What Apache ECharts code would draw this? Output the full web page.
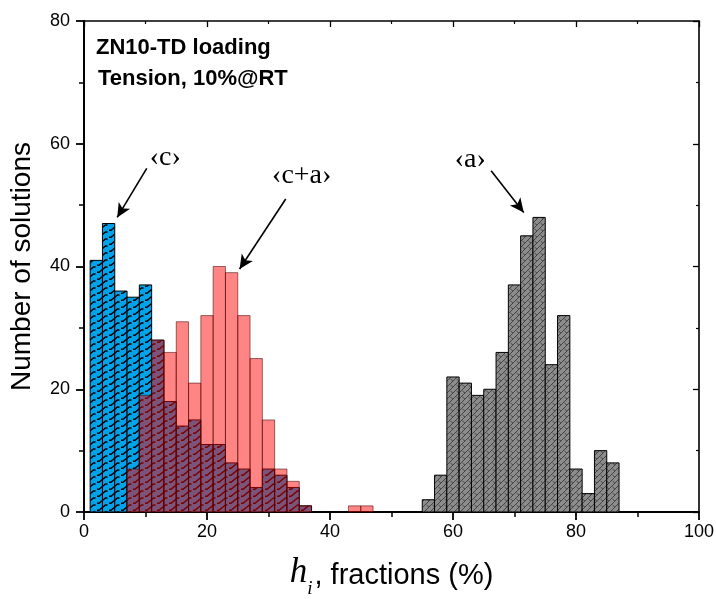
<!DOCTYPE html>
<html>
<head>
<meta charset="utf-8">
<script src="https://cdn.jsdelivr.net/npm/echarts@6/dist/echarts.min.js"></script>
<style>
  html, body { margin: 0; padding: 0; background: #fff; }
  #chart { width: 716px; height: 599px; }
</style>
</head>
<body>
<div id="chart"></div>
<script>
// Histogram of slip-system fractions, bins are 2 % wide (values are bin centres)
const binWidth = 2;

// <c> slip
const cBins   = [2, 4, 6, 8, 10, 12, 14, 16, 18, 20, 22, 24, 26, 28, 30, 32, 34, 36];
const cCounts = [41, 47, 36, 35, 37, 28, 18, 14, 15, 11, 11, 8, 7, 4, 7, 6, 4, 1];

// <c+a> slip
const caBins   = [8, 10, 12, 14, 16, 18, 20, 22, 24, 26, 28, 30, 32, 34, 36, 44, 46];
const caCounts = [7, 19, 28, 26, 31, 21, 32, 40, 39, 32, 25, 15, 7, 5, 1, 1, 1];

// <a> slip
const aBins   = [56, 58, 60, 62, 64, 66, 68, 70, 72, 74, 76, 78, 80, 82, 84, 86];
const aCounts = [2, 6, 22, 21, 19, 20, 26, 37, 45, 48, 24, 32, 7, 3, 10, 8];

const xTicks = [0, 20, 40, 60, 80, 100];
const yTicks = [0, 20, 40, 60, 80];

// annotation labels and arrows, in data coordinates
const labels = [
  { text: '\u2039c\u203A',   at: [13.2, 57.8] },
  { text: '\u2039c+a\u203A', at: [35.4, 54.8] },
  { text: '\u2039a\u203A',   at: [62.8, 57.4] }
];
const arrows = [
  { from: [10.2, 56.0], to: [5.4, 48.0] },
  { from: [32.8, 51.0], to: [25.3, 39.6] },
  { from: [66.2, 55.6], to: [71.5, 48.8] }
];

function pairs(bins, counts) { return bins.map((b, i) => [b, counts[i]]); }

// hatch fills
function blueHatch() {
  const cv = document.createElement('canvas');
  cv.width = 12; cv.height = 7;
  const g = cv.getContext('2d');
  g.fillStyle = '#00a2ea';
  g.fillRect(0, 0, 12, 7);
  g.strokeStyle = '#000';
  g.lineWidth = 1.4;
  g.beginPath();
  g.moveTo(1, 6.2); g.lineTo(3, 6.2); g.lineTo(9.5, 1); g.lineTo(11.5, 1);
  g.stroke();
  return { image: cv, repeat: 'repeat' };
}
function grayHatch() {
  const cv = document.createElement('canvas');
  cv.width = 6; cv.height = 6;
  const g = cv.getContext('2d');
  g.fillStyle = '#8c8c8c';
  g.fillRect(0, 0, 6, 6);
  g.strokeStyle = '#333';
  g.lineWidth = 0.8;
  g.beginPath();
  g.moveTo(0, 6); g.lineTo(6, 0);
  g.moveTo(0.5, 1); g.lineTo(3, 3.2);
  g.stroke();
  return { image: cv, repeat: 'repeat' };
}

function barRenderer(fill, stroke, lineWidth) {
  return function (params, api) {
    const c = api.value(0), v = api.value(1);
    const p0 = api.coord([c - binWidth / 2, v]);
    const p1 = api.coord([c + binWidth / 2, 0]);
    return {
      type: 'rect',
      shape: { x: p0[0], y: p0[1], width: p1[0] - p0[0], height: p1[1] - p0[1] },
      style: { fill: fill, stroke: stroke, lineWidth: lineWidth }
    };
  };
}

const chart = echarts.init(document.getElementById('chart'), null, { renderer: 'canvas' });

const axisFont = { fontFamily: 'Liberation Sans, Arial, sans-serif', fontSize: 18, color: '#000' };
const frameLine = { show: true, onZero: false, lineStyle: { color: '#000', width: 1.6 } };

const option = {
  animation: false,
  backgroundColor: '#fff',
  grid: { left: 84, right: 17, top: 21, bottom: 87, containLabel: false, outerBoundsMode: 'none' },
  xAxis: [
    {
      type: 'value', min: 0, max: 100, interval: 20,
      axisLine: { show: true, onZero: false, lineStyle: { color: '#000', width: 2 } },
      axisTick: { show: true, inside: false, length: 8, lineStyle: { color: '#000', width: 1.8 } },
      minorTick: { show: true, splitNumber: 2, length: 5, lineStyle: { color: '#000', width: 1.5 } },
      splitLine: { show: false },
      axisLabel: Object.assign({ margin: 11, formatter: v => xTicks.includes(v) ? String(v) : '' }, axisFont),
      name: '{h|h}{i|i}{t|, fractions (%)}',
      nameLocation: 'middle', nameGap: 43,
      nameTextStyle: {
        rich: {
          h: { fontFamily: 'Liberation Serif, Times New Roman, serif', fontStyle: 'italic', fontSize: 35, color: '#000', verticalAlign: 'bottom' },
          i: { fontFamily: 'Liberation Serif, Times New Roman, serif', fontStyle: 'italic', fontSize: 19, color: '#000', verticalAlign: 'bottom', padding: [0, 2, -8, 0] },
          t: { fontFamily: 'Liberation Sans, Arial, sans-serif', fontSize: 29, color: '#000', verticalAlign: 'bottom' }
        }
      }
    },
    {
      type: 'value', position: 'top', min: 0, max: 100, interval: 20,
      axisLine: frameLine,
      axisTick: { show: true, inside: true, length: 6, lineStyle: { color: '#000', width: 1.3 } },
      minorTick: { show: true, splitNumber: 2, length: 3, lineStyle: { color: '#000', width: 1.2 } },
      axisLabel: { show: false }, splitLine: { show: false }
    }
  ],
  yAxis: [
    {
      type: 'value', min: 0, max: 80, interval: 20,
      axisLine: { show: true, onZero: false, lineStyle: { color: '#000', width: 2 } },
      axisTick: { show: true, inside: false, length: 8, lineStyle: { color: '#000', width: 1.8 } },
      minorTick: { show: true, splitNumber: 2, length: 5, lineStyle: { color: '#000', width: 1.5 } },
      splitLine: { show: false },
      axisLabel: Object.assign({ margin: 14, formatter: v => yTicks.includes(v) ? String(v) : '' }, axisFont),
      name: 'Number of solutions',
      nameLocation: 'middle', nameGap: 48,
      nameTextStyle: { fontFamily: 'Liberation Sans, Arial, sans-serif', fontSize: 28, color: '#000' }
    },
    {
      type: 'value', position: 'right', min: 0, max: 80, interval: 20,
      axisLine: frameLine,
      axisTick: { show: true, inside: true, length: 6, lineStyle: { color: '#000', width: 1.3 } },
      minorTick: { show: true, splitNumber: 2, length: 3, lineStyle: { color: '#000', width: 1.2 } },
      axisLabel: { show: false }, splitLine: { show: false }
    }
  ],
  series: [
    {
      name: '<c>', type: 'custom', xAxisIndex: 0, yAxisIndex: 0,
      renderItem: barRenderer(blueHatch(), '#000', 1),
      encode: { x: 0, y: 1 },
      data: pairs(cBins, cCounts), z: 2
    },
    {
      name: '<c+a>', type: 'custom', xAxisIndex: 0, yAxisIndex: 0,
      renderItem: barRenderer('rgba(255,0,0,0.48)', 'rgba(70,0,0,0.55)', 1),
      encode: { x: 0, y: 1 },
      data: pairs(caBins, caCounts), z: 3
    },
    {
      name: '<a>', type: 'custom', xAxisIndex: 0, yAxisIndex: 0,
      renderItem: barRenderer(grayHatch(), '#000', 1),
      encode: { x: 0, y: 1 },
      data: pairs(aBins, aCounts), z: 2
    },
    {
      // arrows and slip-mode labels
      type: 'line', xAxisIndex: 0, yAxisIndex: 0, data: [], silent: true, z: 5,
      markLine: {
        silent: true, animation: false,
        symbol: ['none', 'arrow'], symbolSize: [10, 14],
        label: { show: false },
        lineStyle: { color: '#000', width: 1.6, type: 'solid' },
        data: arrows.map(a => [{ coord: a.from }, { coord: a.to }])
      },
      markPoint: {
        silent: true, animation: false,
        symbol: 'circle', symbolSize: 0,
        label: {
          show: true, position: 'inside',
          fontFamily: 'Liberation Serif, Times New Roman, serif', fontSize: 28, color: '#000',
          formatter: p => p.name
        },
        data: labels.map(l => ({ name: l.text, coord: l.at }))
      }
    }
  ],
  graphic: [
    {
      type: 'text', left: 96, top: 37,
      style: { text: 'ZN10-TD loading', font: 'bold 22px "Liberation Sans", Arial, sans-serif', fill: '#000' }
    },
    {
      type: 'text', left: 98, top: 68,
      style: { text: 'Tension, 10%@RT', font: 'bold 22px "Liberation Sans", Arial, sans-serif', fill: '#000' }
    }
  ]
};

chart.setOption(option);
</script>
</body>
</html>
